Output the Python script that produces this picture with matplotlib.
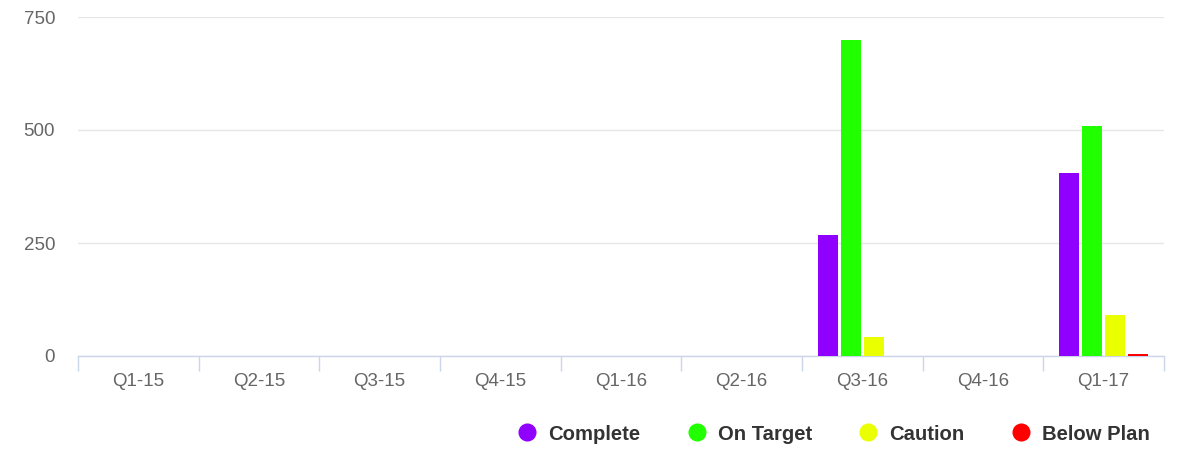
import matplotlib
matplotlib.use("Agg")
import matplotlib.pyplot as plt
import numpy as np
from matplotlib.lines import Line2D
from matplotlib.ticker import FixedLocator

plt.rcParams['font.family'] = ['Liberation Sans', 'DejaVu Sans']

categories = ["Q1-15", "Q2-15", "Q3-15", "Q4-15", "Q1-16", "Q2-16", "Q3-16", "Q4-16", "Q1-17"]
series_names = ["Complete", "On Target", "Caution", "Below Plan"]
complete = [0, 0, 0, 0, 0, 0, 268, 0, 405]
on_target = [0, 0, 0, 0, 0, 0, 699, 0, 508]
caution = [0, 0, 0, 0, 0, 0, 42, 0, 91]
below_plan = [0, 0, 0, 0, 0, 0, 1, 0, 5]
colors = ["#8f00ff", "#22ff00", "#eaff00", "#ff0000"]

fig = plt.figure(figsize=(11.83, 4.5), dpi=100)
ax = fig.add_axes([78/1183, 1-356/450, (1164-78)/1183, (356-17)/450])

x = np.arange(len(categories))
slot = 0.19
bw = 0.168
all_series = [complete, on_target, caution, below_plan]
for i, (vals, c) in enumerate(zip(all_series, colors)):
    ax.bar(x + (i - 1.5) * slot, vals, width=bw, color=c, linewidth=0, zorder=3)

ax.set_xlim(-0.5, len(categories) - 0.5)
ax.set_ylim(0, 750)
ax.set_yticks([0, 250, 500, 750])
ax.grid(axis='y', color='#e6e6e6', linewidth=1, zorder=0)
ax.set_axisbelow(True)

ax.set_xticks(x)
ax.set_xticklabels(categories)
ax.xaxis.set_minor_locator(FixedLocator(np.arange(-0.5, len(categories), 1.0)))
ax.tick_params(axis='x', which='major', length=0, pad=12, labelsize=13.5, labelcolor='#666666')
ax.tick_params(axis='x', which='minor', length=11, color='#ccd6eb', width=1)
ax.tick_params(axis='y', length=0, pad=16.5, labelsize=13.5, labelcolor='#666666')

for s in ['top', 'right', 'left']:
    ax.spines[s].set_visible(False)
ax.spines['bottom'].set_color('#ccd6eb')
ax.spines['bottom'].set_linewidth(1)

handles = [Line2D([0], [0], marker='o', linestyle='none', markersize=12,
                  markerfacecolor=c, markeredgecolor=c) for c in colors]
leg = fig.legend(handles, series_names, loc='center right', bbox_to_anchor=(1158/1183, 1-434/450),
                 ncol=4, frameon=False, handlelength=0.8, handletextpad=0.66, columnspacing=2.35,
                 borderaxespad=0, prop={'weight': 'bold', 'size': 14.6})
for t in leg.get_texts():
    t.set_color('#333333')

fig.savefig("out.png", dpi=100)
